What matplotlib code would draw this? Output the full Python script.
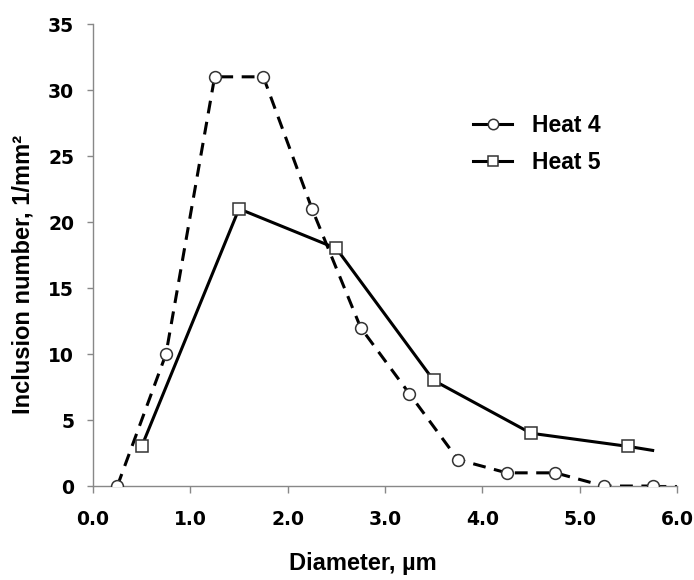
import matplotlib
matplotlib.use("Agg")
import matplotlib.pyplot as plt
from matplotlib.lines import Line2D

# Data
heat4_x = [0.25, 0.75, 1.25, 1.75, 2.25, 2.75, 3.25, 3.75, 4.25, 4.75, 5.25, 5.75]
heat4_y = [0, 10, 31, 31, 21, 12, 7, 2, 1, 1, 0, 0]
heat4_tail_x = [5.75, 6.0]
heat4_tail_y = [0, 0]
heat5_x = [0.5, 1.5, 2.5, 3.5, 4.5, 5.5]
heat5_y = [3, 21, 18, 8, 4, 3]
heat5_tail_x = [5.5, 5.75]
heat5_tail_y = [3, 2.7]
series_labels = ["Heat 4", "Heat 5"]
xticks = [0, 1, 2, 3, 4, 5, 6]
xtick_labels = ["0.0", "1.0", "2.0", "3.0", "4.0", "5.0", "6.0"]
yticks = [0, 5, 10, 15, 20, 25, 30, 35]

fig = plt.figure(figsize=(6.94, 5.8), dpi=100)
ax = fig.add_axes([0.134, 0.162, 0.8415, 0.7966])

dash = (0, (4.2, 2.8))
lw = 2.2
ax.plot(heat4_tail_x, heat4_tail_y, color="black", lw=lw, linestyle=dash, zorder=2)
ax.plot(heat5_tail_x, heat5_tail_y, color="black", lw=lw, zorder=2)
ax.plot(heat4_x, heat4_y, color="black", lw=lw, linestyle=dash,
        marker="o", ms=8.5, mfc="white", mec="#333333", mew=1.1, zorder=3)
ax.plot(heat5_x, heat5_y, color="black", lw=lw,
        marker="s", ms=8.3, mfc="white", mec="#333333", mew=1.1, zorder=3)

ax.set_xlim(0, 6)
ax.set_ylim(0, 35)
ax.set_xticks(xticks)
ax.set_xticklabels(xtick_labels)
ax.set_yticks(yticks)

for s in ["top", "right"]:
    ax.spines[s].set_visible(False)
for s in ["left", "bottom"]:
    ax.spines[s].set_color("#888888")
    ax.spines[s].set_linewidth(1.0)
ax.tick_params(axis="both", direction="out", width=1.0, color="#888888",
               labelsize=13.5)
for lab in ax.get_xticklabels() + ax.get_yticklabels():
    lab.set_fontweight("bold")
    lab.set_family("DejaVu Sans")
ax.tick_params(axis="x", pad=12, length=5)
ax.tick_params(axis="y", pad=9, length=4.5)

ax.set_xlabel("Diameter, µm", fontsize=17, fontweight="bold", family="Liberation Sans")
ax.set_ylabel("Inclusion number, 1/mm²", fontsize=17, fontweight="bold", family="Liberation Sans")
ax.xaxis.set_label_coords(0.462, -0.143)
ax.yaxis.set_label_coords(-0.10, 0.457)

handles = [
    Line2D([], [], color="black", lw=lw, marker="o", ms=7.5, mfc="white", mec="#333333", mew=1.1),
    Line2D([], [], color="black", lw=lw, marker="s", ms=7.5, mfc="white", mec="#333333", mew=1.1),
]
leg = ax.legend(handles, series_labels, loc="upper left", bbox_to_anchor=(0.616, 0.85),
                frameon=False, handlelength=1.7, handletextpad=0.87, labelspacing=0.6,
                prop={"family": "Liberation Sans", "weight": "bold", "size": 16.5})

fig.savefig("out.png", dpi=100)
